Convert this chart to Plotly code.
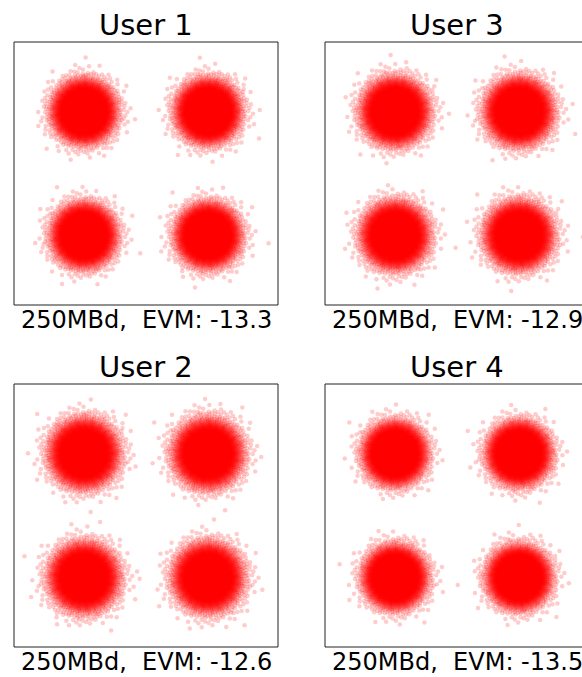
import numpy as np
import plotly.graph_objects as go

# Per-user measurement results
users = ["User 1", "User 2", "User 3", "User 4"]
evm_db = [-13.3, -12.6, -12.9, -13.5]
symbol_rate = "250MBd"

# QPSK reference constellation (I, Q)
qpsk_i = [-1.0, 1.0, -1.0, 1.0]
qpsk_q = [1.0, 1.0, -1.0, -1.0]
samples_per_symbol = 6000

W, H = 582, 677
PANEL_W, PANEL_H = 264, 263
PX_PER_UNIT = 62.0
# top-left pixel corner of each panel
panel_origin = {
    "User 1": (14, 42),
    "User 3": (325, 42),
    "User 2": (14, 384),
    "User 4": (325, 384),
}


def r2_normals(n, start):
    """Low-discrepancy (R2 sequence) standard-normal pairs via Box-Muller."""
    g = 1.32471795724474602596
    a1, a2 = 1.0 / g, 1.0 / g ** 2
    k = np.arange(start + 1, start + n + 1, dtype=float)
    u = (0.5 + a1 * k) % 1.0
    v = (0.5 + a2 * k) % 1.0
    u = np.clip(u, 1e-12, 1.0)
    r = np.sqrt(-2.0 * np.log(u))
    return r * np.cos(2 * np.pi * v), r * np.sin(2 * np.pi * v)


fig = go.Figure()
shapes, annotations = [], []
font = "DejaVu Sans, Verdana, sans-serif"

for idx, (user, evm) in enumerate(zip(users, evm_db)):
    # error-vector rms per dimension for unit-amplitude QPSK at the given EVM
    sigma = 10 ** (evm / 20.0)
    xs, ys = [], []
    for s, (ci, cq) in enumerate(zip(qpsk_i, qpsk_q)):
        ni, nq = r2_normals(samples_per_symbol, 7919 * (idx * 4 + s) + 13)
        xs.append(ci + sigma * ni)
        ys.append(cq + sigma * nq)
    xs = np.concatenate(xs)
    ys = np.concatenate(ys)

    x0, y0 = panel_origin[user]
    x1 = min(x0 + PANEL_W, W)
    dom_x = [x0 / W, x1 / W]
    dom_y = [1 - (y0 + PANEL_H) / H, 1 - y0 / H]
    half_x = PANEL_W / 2 / PX_PER_UNIT
    half_y = PANEL_H / 2 / PX_PER_UNIT
    xr = [-half_x, -half_x + (x1 - x0) / PX_PER_UNIT]
    yr = [-half_y, half_y]

    n = idx + 1
    xa, ya = f"x{n if n > 1 else ''}", f"y{n if n > 1 else ''}"
    fig.add_trace(go.Scatter(
        x=xs, y=ys, mode="markers", xaxis=xa, yaxis=ya,
        marker=dict(size=4.5, color="rgba(255,0,0,0.2)", line=dict(width=0)),
        hoverinfo="skip", showlegend=False,
    ))
    axis_common = dict(showgrid=False, zeroline=False, showticklabels=False,
                       ticks="", showline=False, fixedrange=True)
    fig.layout[f"xaxis{n if n > 1 else ''}"] = dict(domain=dom_x, range=xr, anchor=ya, **axis_common)
    fig.layout[f"yaxis{n if n > 1 else ''}"] = dict(domain=dom_y, range=yr, anchor=xa, **axis_common)

    # panel frame
    shapes.append(dict(type="rect", xref="paper", yref="paper",
                       x0=x0 / W, x1=(x0 + PANEL_W) / W,
                       y0=1 - (y0 + PANEL_H) / H, y1=1 - y0 / H,
                       line=dict(color="#222222", width=1), fillcolor="rgba(0,0,0,0)"))
    cx = (x0 + PANEL_W / 2) / W
    annotations.append(dict(text=user, xref="paper", yref="paper", x=cx,
                            y=1 - (y0 - 17) / H, xanchor="center", yanchor="middle",
                            showarrow=False, font=dict(family=font, size=29, color="black")))
    annotations.append(dict(text=f"{symbol_rate},  EVM: {evm:.1f}", xref="paper", yref="paper",
                            x=cx, y=1 - (y0 + PANEL_H + 15) / H, xanchor="center",
                            yanchor="middle", showarrow=False,
                            font=dict(family=font, size=24, color="black")))

fig.update_layout(
    width=W, height=H, margin=dict(l=0, r=0, t=0, b=0),
    paper_bgcolor="white", plot_bgcolor="white",
    shapes=shapes, annotations=annotations,
)
fig.write_html("out.html", config={"displayModeBar": False})
